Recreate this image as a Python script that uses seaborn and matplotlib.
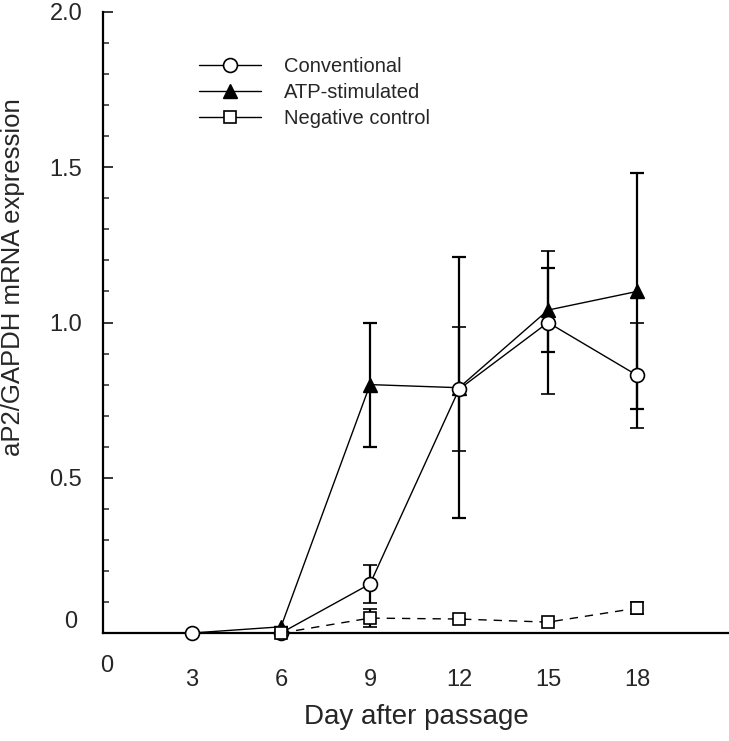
import matplotlib
matplotlib.use("Agg")
import matplotlib.pyplot as plt
from matplotlib.lines import Line2D
import seaborn as sns
import numpy as np

# values
days = [3, 6, 9, 12, 15, 18]

conv_mean = [0.0, 0.0, 0.158, 0.785, 1.0, 0.83]
conv_err = [0.0, 0.0, 0.06, 0.20, 0.23, 0.17]

atp_days = [3, 6, 9, 12, 15, 18]
atp_mean = [0.0, 0.02, 0.80, 0.79, 1.04, 1.10]
atp_err = [0.0, 0.0, 0.20, 0.42, 0.135, 0.38]

neg_days = [6, 9, 12, 15, 18]
neg_mean = [0.0, 0.048, 0.045, 0.035, 0.08]
neg_err = [0.0, 0.03, 0.0, 0.0, 0.02]

series_labels = ["Conventional", "ATP-stimulated", "Negative control"]
x_ticks = [3, 6, 9, 12, 15, 18]
y_ticks = [0, 0.5, 1.0, 1.5, 2.0]
y_ticklabels = ["", "0.5", "1.0", "1.5", "2.0"]

sns.set_theme(style="ticks")
plt.rcParams["font.family"] = ["Liberation Sans", "DejaVu Sans"]

fig = plt.figure(figsize=(7.29, 7.41), dpi=100)
ax = fig.add_axes([103 / 729, 108 / 741, 1 - 103 / 729, 621 / 741])

err_kw = dict(ecolor="black", elinewidth=1.6, capsize=5, capthick=1.6)

# ATP first so the circle sits on top at day 3 (its day-3 marker is hidden)
ax.errorbar(atp_days, atp_mean, yerr=atp_err, color="black", lw=1.0,
            marker="^", ms=10, mfc="black", mec="black", clip_on=False,
            markevery=list(range(1, len(atp_days))), zorder=3, **err_kw)
ax.errorbar(days, conv_mean, yerr=conv_err, color="black", lw=1.0,
            marker="o", ms=10, mfc="white", mec="black", mew=1.2,
            clip_on=False, zorder=4, **err_kw)
ax.errorbar(neg_days, neg_mean, yerr=neg_err, color="black", lw=1.0,
            ls=(0, (6, 5)), marker="s", ms=9, mfc="white", mec="black",
            mew=1.2, clip_on=False, zorder=4, **err_kw)

ax.set_xlim(0, 21.1)
ax.set_ylim(0, 2.0)

ax.set_xticks(x_ticks)
ax.set_xticklabels([str(d) for d in x_ticks])
ax.set_yticks(y_ticks)
ax.set_yticklabels(y_ticklabels)
ax.set_yticks(np.arange(0, 2.01, 0.1), minor=True)

ax.tick_params(axis="x", length=0, pad=26, labelsize=17)
ax.tick_params(axis="y", which="major", direction="in", length=7, width=1.3,
               pad=15, labelsize=17)
ax.tick_params(axis="y", which="minor", direction="in", length=4, width=1.1)

# stray zero labels placed like in the original
ax.annotate("0", xy=(0, 0), xycoords=("data", "axes fraction"),
            xytext=(3, -24), textcoords="offset points",
            ha="center", va="center", fontsize=17)
ax.annotate("0", xy=(0, 0), xycoords=("axes fraction", "data"),
            xytext=(-23, 8), textcoords="offset points",
            ha="center", va="center", fontsize=17)

ax.set_xlabel("Day after passage", fontsize=20, labelpad=9)
ax.set_ylabel("aP2/GAPDH mRNA expression", fontsize=18.5)
ax.yaxis.set_label_coords(-0.124, (633 - 277) / 621)

sns.despine(ax=ax)
for side in ["left", "bottom"]:
    ax.spines[side].set_linewidth(1.6)
    ax.spines[side].set_color("black")

handles = [
    Line2D([], [], color="black", lw=1.0, marker="o", ms=10, mfc="white",
           mec="black", mew=1.2),
    Line2D([], [], color="black", lw=1.0, marker="^", ms=10, mfc="black",
           mec="black"),
    Line2D([], [], color="black", lw=1.0, marker="s", ms=9, mfc="white",
           mec="black", mew=1.2),
]
ax.legend(handles, series_labels, loc="upper left",
          bbox_to_anchor=(0.14, 0.941), frameon=False, fontsize=14.5,
          handlelength=3.1, handletextpad=1.15, labelspacing=0.36,
          borderaxespad=0)

fig.savefig("out.png", dpi=100)
